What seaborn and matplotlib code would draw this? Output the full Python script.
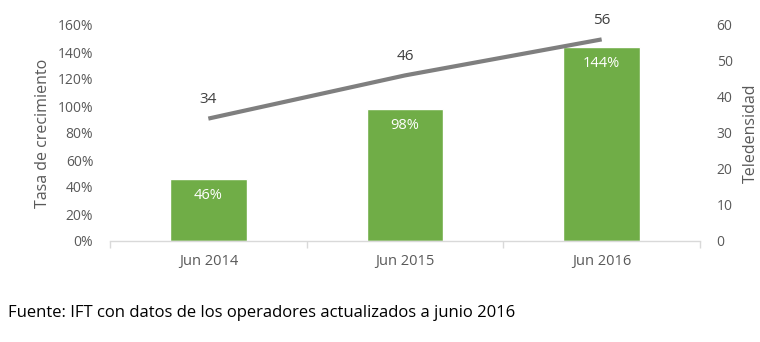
import matplotlib
matplotlib.use("Agg")
import matplotlib.pyplot as plt
import seaborn as sns
import pandas as pd
from matplotlib.ticker import FuncFormatter, FixedLocator

periods = ["Jun 2014", "Jun 2015", "Jun 2016"]
growth_rate = [46, 98, 144]        # Tasa de crecimiento (%)
teledensity = [34, 46, 56]         # Teledensidad
source_note = "Fuente: IFT con datos de los operadores actualizados a junio 2016"

sns.set_theme(style="white")
plt.rcParams["font.family"] = ["Open Sans", "DejaVu Sans"]

GREEN = "#70AD47"
GREY_LINE = "#7F7F7F"
TEXT = "#595959"
AXIS = "#D9D9D9"

df = pd.DataFrame({"periodo": periods, "tasa": growth_rate, "tele": teledensity})

fig = plt.figure(figsize=(7.6, 3.42), dpi=100)
ax = fig.add_axes([110 / 760, 1 - 241 / 342, 590 / 760, 216 / 342])

sns.barplot(data=df, x="periodo", y="tasa", color=GREEN, width=0.39,
            saturation=1, ax=ax)
ax.set_xlim(-0.5, 2.5)
ax.set_ylim(0, 160)
ax.set_yticks(range(0, 161, 20))
ax.yaxis.set_major_formatter(FuncFormatter(lambda v, _: f"{v:.0f}%"))
ax.set_xlabel("")
ax.set_ylabel("Tasa de crecimiento", color=TEXT, fontsize=11.5, labelpad=5)

for i, v in enumerate(growth_rate):
    ax.text(i, v - 12.5, f"{v}%", ha="center", va="center", color="white",
            fontsize=10.5)

ax2 = ax.twinx()
sns.lineplot(x=list(range(len(periods))), y=teledensity, ax=ax2,
             color=GREY_LINE, linewidth=3, solid_capstyle="butt")
ax2.set_ylim(0, 60)
ax2.set_yticks(range(0, 61, 10))
ax2.set_ylabel("Teledensidad", color=TEXT, fontsize=11.5, labelpad=7)
for i, v in enumerate(teledensity):
    ax2.text(i, v + 5.3, f"{v}", ha="center", va="center", color="#404040",
             fontsize=11)

for a in (ax, ax2):
    for s in a.spines.values():
        s.set_visible(False)
    a.tick_params(axis="y", length=0, labelsize=10, labelcolor=TEXT, pad=12)
    a.grid(False)

ax.spines["bottom"].set_visible(True)
ax.spines["bottom"].set_color(AXIS)
ax.spines["bottom"].set_linewidth(1)
ax.tick_params(axis="x", which="major", length=0, labelsize=10.5,
               labelcolor=TEXT, pad=9)
ax.xaxis.set_minor_locator(FixedLocator([-0.5, 0.5, 1.5, 2.5]))
ax.tick_params(axis="x", which="minor", length=5, color=AXIS, width=1,
               bottom=True)
ax2.tick_params(axis="y", pad=12)

fig.text(8 / 760, 1 - 313 / 342, source_note, ha="left", va="center",
         fontsize=12, color="black")

fig.savefig("out.png", dpi=100)
